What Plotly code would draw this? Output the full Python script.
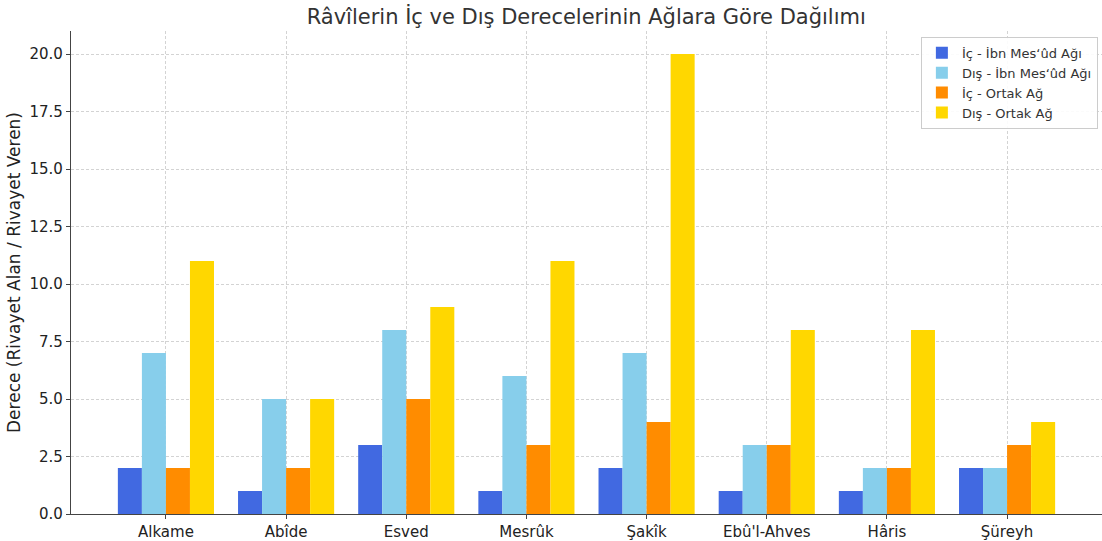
import plotly.graph_objects as go

categories = ["Alkame", "Abîde", "Esved", "Mesrûk", "Şakîk", "Ebû'l-Ahves", "Hâris", "Şüreyh"]
ic_ibn = [2, 1, 3, 1, 2, 1, 1, 2]
dis_ibn = [7, 5, 8, 6, 7, 3, 2, 2]
ic_ortak = [2, 2, 5, 3, 4, 3, 2, 3]
dis_ortak = [11, 5, 9, 11, 20, 8, 8, 4]
series_names = ["İç - İbn Mes‘ûd Ağı", "Dış - İbn Mes‘ûd Ağı", "İç - Ortak Ağ", "Dış - Ortak Ağ"]
colors = ["#4169E1", "#87CEEB", "#FF8C00", "#FFD700"]
y_ticks = [0, 2.5, 5, 7.5, 10, 12.5, 15, 17.5, 20]

x = list(range(len(categories)))
fig = go.Figure()
for name, vals, c in zip(series_names, [ic_ibn, dis_ibn, ic_ortak, dis_ortak], colors):
    fig.add_trace(go.Bar(x=x, y=vals, name=name, marker=dict(color=c, line=dict(width=0))))

font = "DejaVu Sans, sans-serif"
grid = "#d3d3d3"
fig.update_layout(
    width=1102, height=541,
    barmode="group", bargap=0.2, bargroupgap=0,
    plot_bgcolor="white", paper_bgcolor="white",
    margin=dict(l=71, r=0, t=31, b=25, pad=0),
    font=dict(family=font, color="#333333"),
    title=dict(text="Râvîlerin İç ve Dış Derecelerinin Ağlara Göre Dağılımı",
               x=0.532, xanchor="center", y=0.969, yanchor="middle",
               font=dict(size=21, color="#333333", family=font)),
    xaxis=dict(range=[-0.79, 7.79], tickvals=x, ticktext=categories,
               showgrid=True, gridcolor=grid, griddash="3px,2px", gridwidth=1,
               showline=True, linecolor="#444444", linewidth=1.2,
               ticks="outside", ticklen=4, tickcolor="#444444",
               tickfont=dict(size=15, color="#222222"), zeroline=False),
    yaxis=dict(range=[0, 21], tickvals=y_ticks, ticktext=[f"{v:.1f}" for v in y_ticks],
               showgrid=True, gridcolor=grid, griddash="3px,2px", gridwidth=1,
               showline=True, linecolor="#444444", linewidth=1.2,
               ticks="outside", ticklen=4, tickcolor="#444444",
               tickfont=dict(size=15, color="#222222"), zeroline=False,
               title=dict(text="Derece (Rivayet Alan / Rivayet Veren)", standoff=4,
                          font=dict(size=17, color="#222222"))),
    legend=dict(x=0.996, y=0.988, xanchor="right", yanchor="top",
                bgcolor="rgba(255,255,255,0.9)", bordercolor="#cccccc", borderwidth=1,
                font=dict(size=13, color="#333333"), itemwidth=30, tracegroupgap=2),
)
fig.write_html("out.html", config={"displayModeBar": False},
               post_script="document.body.style.margin='0px';")
